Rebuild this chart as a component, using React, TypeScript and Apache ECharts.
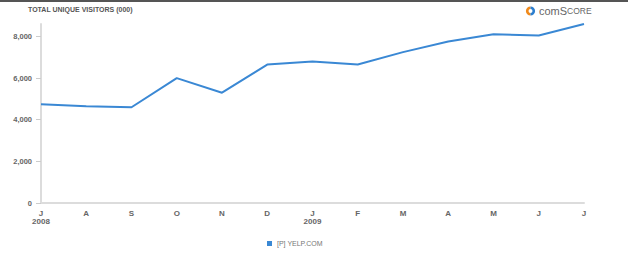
import React, { useEffect, useRef } from "react";
import * as echarts from "echarts";

const months = ["J", "A", "S", "O", "N", "D", "J", "F", "M", "A", "M", "J", "J"];
const years = ["2008", "", "", "", "", "", "2009", "", "", "", "", "", ""];
const visitors = [4750, 4650, 4600, 6000, 5300, 6650, 6800, 6650, 7250, 7760, 8110, 8050, 8600];
const yTicks = [0, 2000, 4000, 6000, 8000];
const seriesName = "[P] YELP.COM";
const chartTitle = "TOTAL UNIQUE VISITORS (000)";

const FONT = "'Liberation Sans', Arial, sans-serif";

export default function App() {
  const ref = useRef<HTMLDivElement>(null);
  useEffect(() => {
    if (!ref.current) return;
    const chart = echarts.init(ref.current, undefined, { renderer: "svg" });
    const categories = months.map((m, i) => (years[i] ? `${m}\n${years[i]}` : m));
    chart.setOption({
      animation: false,
      backgroundColor: "#fff",
      title: {
        text: chartTitle,
        left: 28,
        top: 6,
        padding: 0,
        textStyle: { fontSize: 7, fontWeight: "bold", color: "#555", fontFamily: FONT },
      },
      legend: {
        data: [seriesName],
        left: 267,
        top: 240,
        padding: 0,
        icon: "rect",
        itemWidth: 5,
        itemHeight: 5,
        itemGap: 6,
        textStyle: { fontSize: 7, color: "#777", fontFamily: FONT },
      },
      grid: { left: 41, right: 44, top: 24, bottom: 50, containLabel: false },
      xAxis: {
        type: "category",
        data: categories,
        boundaryGap: false,
        axisLine: { show: true, lineStyle: { color: "#dcdcdc", width: 2 } },
        axisTick: { show: false },
        splitLine: { show: false },
        axisLabel: {
          color: "#666",
          fontSize: 8,
          fontWeight: "bold",
          fontFamily: FONT,
          lineHeight: 8,
          margin: 6,
          interval: 0,
        },
      },
      yAxis: {
        type: "value",
        min: 0,
        max: 8600,
        interval: 2000,
        splitLine: { show: false },
        axisLine: { show: true, lineStyle: { color: "#dcdcdc", width: 2 } },
        axisTick: { show: true, length: 5, lineStyle: { color: "#ccc" }, customValues: yTicks },
        axisLabel: {
          color: "#666",
          fontSize: 7.5,
          fontWeight: "bold",
          fontFamily: FONT,
          margin: 9,
          customValues: yTicks,
          formatter: (v: number) => v.toLocaleString("en-US"),
        },
      },
      series: [
        {
          name: seriesName,
          type: "line",
          data: visitors,
          showSymbol: false,
          symbol: "none",
          lineStyle: { color: "#3a88d4", width: 2 },
          itemStyle: { color: "#3a88d4" },
        },
      ],
      graphic: [
        { type: "rect", shape: { x: 0, y: 0, width: 628, height: 2 }, style: { fill: "#555" } },
        {
          type: "arc",
          shape: { cx: 530.5, cy: 11, r: 3.3, startAngle: Math.PI * 0.5, endAngle: Math.PI * 1.5 },
          style: { stroke: "#f08a1c", lineWidth: 2.6, fill: "none" },
        },
        {
          type: "arc",
          shape: { cx: 530.5, cy: 11, r: 3.3, startAngle: -Math.PI * 0.5, endAngle: Math.PI * 0.5 },
          style: { stroke: "#2c7fd0", lineWidth: 2.6, fill: "none" },
        },
        {
          type: "text",
          x: 539,
          y: 5,
          style: {
            text: "{a|com}{b|S}{c|CORE}",
            fill: "#666",
            fontFamily: FONT,
            rich: {
              a: { fontSize: 11, fill: "#666", fontFamily: FONT },
              b: { fontSize: 11, fill: "#666", fontFamily: FONT },
              c: { fontSize: 8.5, fill: "#666", fontFamily: FONT },
            },
          },
        },
      ],
    });
    return () => chart.dispose();
  }, []);
  return (
    <div
      ref={ref}
      style={{ position: "fixed", left: 0, top: 0, width: 628, height: 253 }}
    />
  );
}
